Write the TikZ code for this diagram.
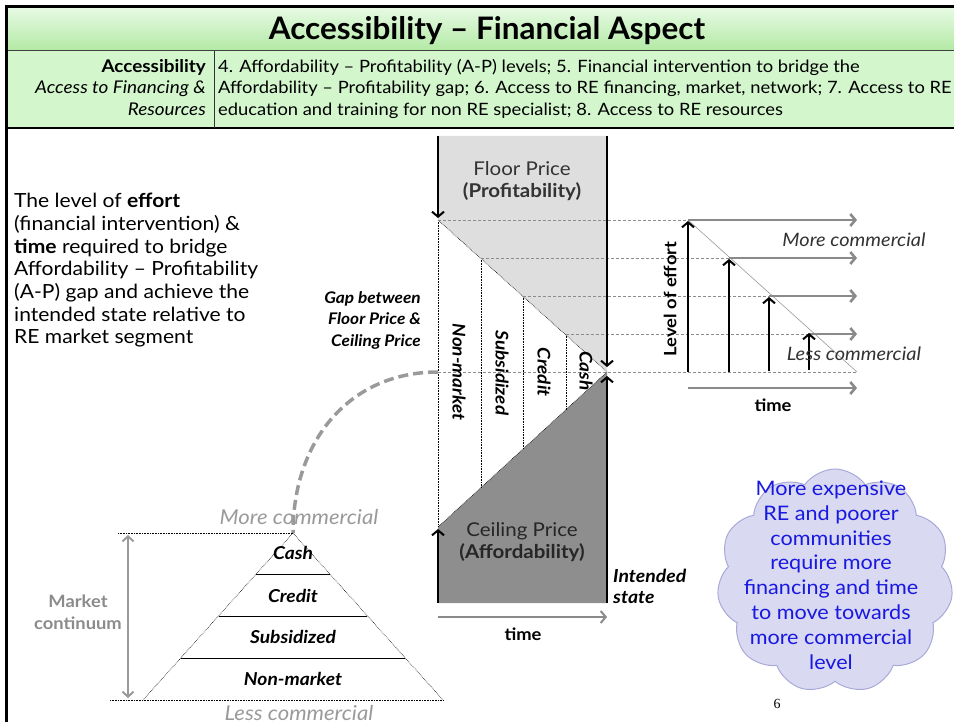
\documentclass[tikz,border=0pt]{standalone}
\usepackage{fontspec}
\setmainfont{Lato}[FakeStretch=1.08]
\newfontfamily\serifnum{Liberation Serif}
\usetikzlibrary{arrows.meta,shapes.symbols,calc}
\definecolor{hdtop}{HTML}{E6FAE3}
\definecolor{hdbot}{HTML}{B2E9A4}
\definecolor{rowgreen}{HTML}{D3F6CD}
\definecolor{lightfill}{HTML}{DEDEDE}
\definecolor{darkfill}{HTML}{8E8E8E}
\definecolor{garr}{HTML}{8A8A8A}
\definecolor{cloudfill}{HTML}{D9D9F2}
\definecolor{clouddraw}{HTML}{A9A9D9}
\definecolor{cloudtext}{HTML}{1818E0}
\definecolor{softgray}{HTML}{9A9A9A}
\begin{document}
\begin{tikzpicture}[x=1pt,y=-1pt,
  blackarrow/.style={line width=2pt,-{Straight Barb[length=5pt,width=12pt]}},
  grayarrow/.style={line width=2.6pt,garr,-{Straight Barb[length=5pt,width=12pt]}},
  dotv/.style={black,line width=0.6pt,densely dotted},
  dashh/.style={black!45,line width=0.7pt,dash pattern=on 3pt off 2pt},
  bigdash/.style={softgray,line width=3.5pt,dash pattern=on 10pt off 5pt},
  colbl/.style={font=\fontsize{17.5}{20}\selectfont\bfseries\itshape,rotate=-90},
  pyrlbl/.style={font=\fontsize{17.8}{20}\selectfont\bfseries\itshape},
  inner sep=0pt]
\useasboundingbox (0,0) rectangle (954,722);
% ---------------- header
\shade[top color=hdtop,bottom color=hdbot] (6,8) rectangle (954,51);
\fill[rowgreen] (6,51) rectangle (954,128);
\draw[black!75,line width=1pt] (6,51) -- (954,51);
\draw[black,line width=1.2pt] (6,128) -- (954,128);
\draw[black!80,line width=1pt] (214,51) -- (214,128);
\draw[black,line width=3pt] (6,722) -- (6,7) -- (954,7);
\node (title) at (487,31) {\fontsize{31}{34}\selectfont\bfseries\scalebox{0.94}[1]{Accessibility -- Financial Aspect}};
\node[anchor=north east,align=right,font=\fontsize{17.5}{21.5}\selectfont] (acc) at (206,59)
  {\textbf{Accessibility}\\\textit{Access to Financing \&}\\\textit{Resources}};
\node[anchor=north west,align=left,font=\fontsize{17}{21.5}\selectfont] (items) at (218,59)
  {4. Affordability -- Profitability (A-P) levels; 5. Financial intervention to bridge the\\
   Affordability -- Profitability gap; 6. Access to RE financing, market, network; 7. Access to RE\\
   education and training for non RE specialist; 8. Access to RE resources};
% ---------------- left description
\node[anchor=north west,align=left,font=\fontsize{19.5}{22.7}\selectfont] (desc) at (14,193)
  {The level of \textbf{effort}\\(financial intervention) \&\\\textbf{time} required to bridge\\
   Affordability -- Profitability\\(A-P) gap and achieve the\\intended state relative to\\RE market segment};
% ---------------- central chart
\coordinate (tl) at (438,136);
\coordinate (tr) at (607,136);
\coordinate (bl) at (438,603);
\coordinate (br) at (607,603);
\coordinate (a0) at (438,220);
\coordinate (a1) at (481,258);
\coordinate (a2) at (523,296);
\coordinate (a3) at (566,334);
\coordinate (m) at (607,372);
\coordinate (b0) at (438,527);
\coordinate (b1) at (481,488);
\coordinate (b2) at (523,449);
\coordinate (b3) at (566,410);
\fill[lightfill] (tl) -- (tr) -- (m) -- (a0) -- cycle;
\fill[darkfill] (b0) -- (m) -- (br) -- (bl) -- cycle;
\draw[dotv] (a0) -- (m);
\draw[dotv] (b0) -- (m);
\draw[dotv] (a0) -- (b0);
\draw[dotv] (a1) -- (b1);
\draw[dotv] (a2) -- (b2);
\draw[dotv] (a3) -- (b3);
% right chart coordinates
\coordinate (r0) at (688,220);
\coordinate (r1) at (729,258);
\coordinate (r2) at (769,296);
\coordinate (r3) at (809,334);
\coordinate (rb) at (857,372);
\coordinate (e0) at (857,220);
\coordinate (e1) at (857,258);
\coordinate (e2) at (857,296);
\coordinate (e3) at (857,334);
\coordinate (f0) at (688,372);
\coordinate (f1) at (729,372);
\coordinate (f2) at (769,371);
\coordinate (f3) at (809,370);
\coordinate (gl) at (438,372);
% dashed guides
\draw[dashh] (a0) -- (r0);
\draw[dashh] (a1) -- (r1);
\draw[dashh] (a2) -- (r2);
\draw[dashh] (a3) -- (r3);
\draw[dashh] (gl) -- (rb);
% column labels
\node[colbl] (nm) at (459,372) {Non-market};
\node[colbl] (sb) at (502,373) {Subsidized};
\node[colbl] (cr) at (544,372) {Credit};
\node[colbl] (cs) at (586,371) {Cash};
% thick black arrows
\draw[blackarrow] (tl) -- ($(a0)+(0,-2)$);
\draw[blackarrow] (tr) -- ($(m)+(0,-5)$);
\draw[blackarrow] (bl) -- ($(b0)+(0,2)$);
\draw[blackarrow] (br) -- ($(m)+(0,4)$);
% labels in chart
\node[align=center,font=\fontsize{19}{22}\selectfont,text=black!80] (floor) at (522,181)
  {Floor Price\\\textbf{(Profitability)}};
\node[align=center,font=\fontsize{19}{22}\selectfont,text=black!85] (ceil) at (522,542)
  {Ceiling Price\\\textbf{(Affordability)}};
\coordinate (t0) at (438,617);
\coordinate (t1) at (607,617);
\draw[grayarrow,line width=2pt] (t0) -- (t1);
\node[font=\fontsize{17}{20}\selectfont\bfseries] (time1) at (523,634) {time};
\node[anchor=west,align=left,font=\fontsize{18}{21}\selectfont\bfseries\itshape] (intended) at (613,586)
  {Intended\\state};
\node[anchor=east,align=right,font=\fontsize{16}{21.5}\selectfont\bfseries\itshape] (gap) at (421,320)
  {Gap between\\Floor Price \&\\Ceiling Price};
% ---------------- right chart
\draw[black!40,line width=0.6pt] (r0) -- (rb);
\draw[grayarrow] (r0) -- (e0);
\draw[grayarrow] (r1) -- (e1);
\draw[grayarrow] (r2) -- (e2);
\draw[grayarrow] (r3) -- (e3);
\draw[blackarrow] (f0) -- ($(r0)+(0,1)$);
\draw[blackarrow] (f1) -- ($(r1)+(0,1)$);
\draw[blackarrow] (f2) -- ($(r2)+(0,1)$);
\draw[blackarrow] (f3) -- ($(r3)+(0,-1)$);
\node[rotate=90,font=\fontsize{17}{20}\selectfont\bfseries] (effort) at (670,299) {Level of effort};
\node[font=\fontsize{18.5}{20}\selectfont\itshape,text=black!80] (morec) at (854,240) {More commercial};
\node[font=\fontsize{18.5}{20}\selectfont\itshape,text=black!80] (lessc) at (854,354) {Less commercial};
\coordinate (u0) at (688,388);
\coordinate (u1) at (857,388);
\draw[grayarrow] (u0) -- (u1);
\node[font=\fontsize{17}{20}\selectfont\bfseries] (time2) at (773,405) {time};
% ---------------- pyramid
\coordinate (apex) at (293,533);
\coordinate (pl) at (143,700);
\coordinate (pr) at (443,700);
\coordinate (ptl) at (118,533);
\coordinate (pbl) at (110,700);
\coordinate (h1l) at (256,574);
\coordinate (h1r) at (330,574);
\coordinate (h2l) at (219,616);
\coordinate (h2r) at (367,616);
\coordinate (h3l) at (181,658);
\coordinate (h3r) at (405,658);
\draw[bigdash] (gl) .. controls (350,372) and (293,440) .. (apex);
\draw[dotv] (ptl) -- (apex);
\draw[dotv] (pbl) -- (pr);
\draw[dotv] (apex) -- (pl);
\draw[dotv] (apex) -- (pr);
\draw[black,line width=0.8pt] (h1l) -- (h1r);
\draw[black,line width=0.8pt] (h2l) -- (h2r);
\draw[black,line width=0.8pt] (h3l) -- (h3r);
\node[pyrlbl] (pcash) at (293,553) {Cash};
\node[pyrlbl] (pcred) at (293,596) {Credit};
\node[pyrlbl] (psub) at (293,637) {Subsidized};
\node[pyrlbl] (pnm) at (293,679) {Non-market};
\coordinate (mc0) at (128,535);
\coordinate (mc1) at (128,698);
\draw[softgray,line width=2pt,{Straight Barb[length=5pt,width=11pt]}-{Straight Barb[length=5pt,width=11pt]}] (mc0) -- (mc1);
\node[align=center,font=\fontsize{17}{22}\selectfont\bfseries,text=softgray!90!black] (mcont) at (78,612)
  {Market\\continuum};
\node[font=\fontsize{20.5}{22}\selectfont\itshape,text=softgray] (pmore) at (299,517) {More commercial};
\node[font=\fontsize{20.5}{22}\selectfont\itshape,text=softgray] (pless) at (299,713) {Less commercial};
% ---------------- cloud
\node[cloud,cloud puffs=11,cloud puff arc=110,aspect=1.05,minimum width=236pt,minimum height=224pt,
  fill=cloudfill,draw=clouddraw,line width=1pt] (cloud) at (835,581) {};
\node[align=center,font=\fontsize{20}{24.8}\selectfont,text=cloudtext] (cloudtxt) at (831,575)
  {More expensive\\RE and poorer\\communities\\require more\\financing and time\\to move towards\\more commercial\\level};
\node[font=\serifnum\fontsize{14}{16}\selectfont] (pnum) at (777,704) {6};
\end{tikzpicture}
\end{document}
